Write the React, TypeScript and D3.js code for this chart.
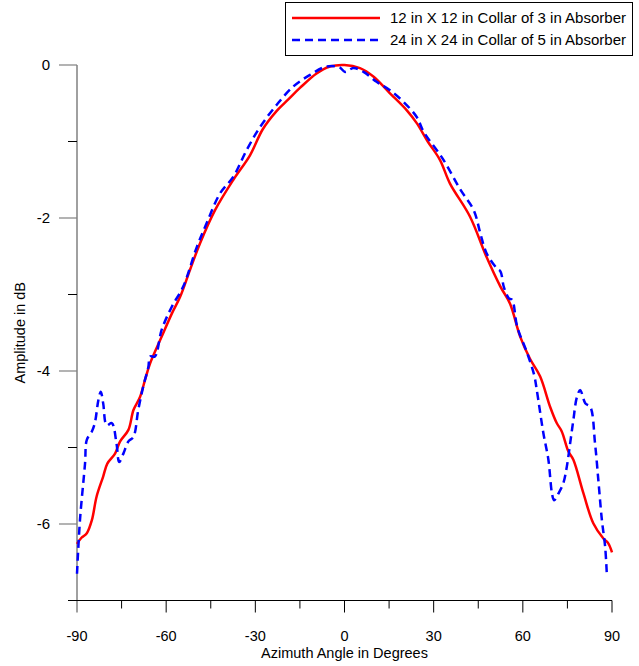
import React from "react";
import * as d3 from "d3";

const redX = [-90, -88.5, -86.7, -85, -83.4, -81.2, -79.8, -77.2, -75.5, -72.7, -71, -68.8, -67, -65.4, -61.5, -58.1, -55.3, -52, -48.6, -43.6, -37.4, -31.8, -27.5, -22.8, -18.9, -15, -9.4, -4.9, 0, 5.2, 9.7, 15.3, 20.9, 24.3, 28, 32.1, 35.5, 42.2, 47.8, 52.5, 55.7, 59.1, 62.4, 65.8, 69.2, 71.4, 73.1, 75.3, 77, 80.4, 83.7, 87.1, 88.7, 90];
const redY = [-6.26, -6.18, -6.12, -5.95, -5.64, -5.38, -5.21, -5.08, -4.92, -4.77, -4.51, -4.34, -4.1, -3.9, -3.55, -3.25, -3.03, -2.68, -2.33, -1.9, -1.5, -1.18, -0.84, -0.6, -0.45, -0.3, -0.11, -0.02, 0, -0.04, -0.15, -0.37, -0.59, -0.76, -1.0, -1.24, -1.55, -1.98, -2.51, -2.9, -3.12, -3.55, -3.84, -4.07, -4.47, -4.68, -4.79, -5.05, -5.16, -5.6, -5.99, -6.19, -6.25, -6.37];

const blueX = [-90, -89, -87.3, -86.7, -85, -84, -82.8, -82, -81.2, -80, -78.3, -76.7, -75.8, -74.4, -72.7, -71, -69.4, -67.7, -66, -65.4, -63.8, -61.5, -58.1, -54.3, -49.7, -46.4, -41.9, -37.4, -32.9, -28.4, -22.8, -17.2, -11.6, -6.1, -1.7, 0.2, 3, 6.4, 10.8, 15.3, 19.8, 24.3, 26.6, 33.3, 39, 43.5, 45.7, 47.8, 51.3, 52.5, 53.6, 55.3, 56.4, 58.1, 61.5, 63.8, 64.7, 66.9, 68.6, 69.8, 70.5, 72, 73.6, 74.8, 75.9, 77, 78.2, 79.3, 81, 82.7, 84.3, 85.5, 86.6, 87.7, 88.3];
const blueY = [-6.65, -5.95, -5.21, -4.9, -4.79, -4.68, -4.38, -4.27, -4.42, -4.71, -4.68, -4.95, -5.19, -5.08, -4.92, -4.86, -4.51, -4.2, -3.95, -3.81, -3.81, -3.46, -3.16, -2.9, -2.38, -2.07, -1.68, -1.46, -1.11, -0.81, -0.52, -0.28, -0.13, -0.02, -0.03, -0.09, -0.04, -0.09, -0.22, -0.33, -0.48, -0.68, -0.87, -1.24, -1.63, -1.9, -2.2, -2.46, -2.66, -2.7, -2.9, -3.05, -3.07, -3.42, -3.77, -4.05, -4.25, -4.81, -5.16, -5.6, -5.69, -5.6, -5.47, -5.25, -4.95, -4.64, -4.34, -4.25, -4.42, -4.47, -4.95, -5.47, -5.95, -6.3, -6.69];

const xMajor = [-90, -60, -30, 0, 30, 60, 90];
const xMinor = [-75, -45, -15, 15, 45, 75];
const yMajor = [0, -2, -4, -6];
const yMinor = [-1, -3, -5];

const seriesNames = ["12 in X 12 in Collar of 3 in Absorber", "24 in X 24 in Collar of 5 in Absorber"];

const W = 639, H = 666;
const FONT = "'Liberation Sans', Arial, sans-serif";

export default function App() {
  const x = d3.scaleLinear().domain([-90, 90]).range([77, 612]);
  const y = d3.scaleLinear().domain([0, -7]).range([65, 600.5]);
  const line = d3.line<[number, number]>()
    .x(d => x(d[0]))
    .y(d => y(d[1]))
    .curve(d3.curveCatmullRom.alpha(0.5));
  const red = redX.map((v, i) => [v, redY[i]] as [number, number]);
  const blue = blueX.map((v, i) => [v, blueY[i]] as [number, number]);
  const x0 = x(-90);
  const yBase = y(-7);
  return (
    <svg width={W} height={H} style={{ position: "absolute", left: 0, top: 0, background: "#fff" }} fontFamily={FONT}>
      <rect x={0} y={0} width={W} height={H} fill="#fff" />
      {/* y axis */}
      <line x1={x0} x2={x0} y1={y(0)} y2={yBase + 12} stroke="#808080" strokeWidth={1.5} />
      {yMajor.map(v => (
        <g key={"ym" + v}>
          <line x1={x0 - 18} x2={x0} y1={y(v)} y2={y(v)} stroke="#808080" strokeWidth={1.2} />
          <text x={x0 - 27} y={y(v)} dy="0.36em" textAnchor="end" fontSize={15}>{v}</text>
        </g>
      ))}
      {yMinor.map(v => (
        <line key={"yn" + v} x1={x0 - 9} x2={x0} y1={y(v)} y2={y(v)} stroke="#000" strokeWidth={1} />
      ))}
      {/* x axis */}
      <line x1={x0 - 9} x2={x(90)} y1={yBase} y2={yBase} stroke="#000" strokeWidth={1} />
      {xMajor.filter(v => v !== -90).map(v => (
        <line key={"xm" + v} x1={x(v)} x2={x(v)} y1={yBase} y2={yBase + 12} stroke="#000" strokeWidth={1} />
      ))}
      {xMinor.map(v => (
        <line key={"xn" + v} x1={x(v)} x2={x(v)} y1={yBase} y2={yBase + 8} stroke="#000" strokeWidth={1} />
      ))}
      {xMajor.map(v => (
        <text key={"xl" + v} x={x(v)} y={641} textAnchor="middle" fontSize={14.5}>{v}</text>
      ))}
      <text x={x(0)} y={658} textAnchor="middle" fontSize={14.5}>Azimuth Angle in Degrees</text>
      <text transform={`translate(25,${(y(0) + yBase) / 2}) rotate(-90)`} textAnchor="middle" fontSize={14.5}>Amplitude in dB</text>
      {/* curves */}
      <path d={line(red) || ""} fill="none" stroke="#ff0000" strokeWidth={2.5} />
      <path d={line(blue) || ""} fill="none" stroke="#0000ff" strokeWidth={2.5} strokeDasharray="8,5" />
      {/* legend */}
      <rect x={285.5} y={2.5} width={347} height={53} fill="#fff" stroke="#000" strokeWidth={1} />
      <line x1={292} x2={380} y1={18} y2={18} stroke="#ff0000" strokeWidth={2.5} />
      <text x={390} y={18} dy="0.36em" fontSize={15}>{seriesNames[0]}</text>
      <line x1={292} x2={380} y1={40} y2={40} stroke="#0000ff" strokeWidth={2.5} strokeDasharray="8,5" />
      <text x={390} y={40} dy="0.36em" fontSize={15}>{seriesNames[1]}</text>
    </svg>
  );
}
